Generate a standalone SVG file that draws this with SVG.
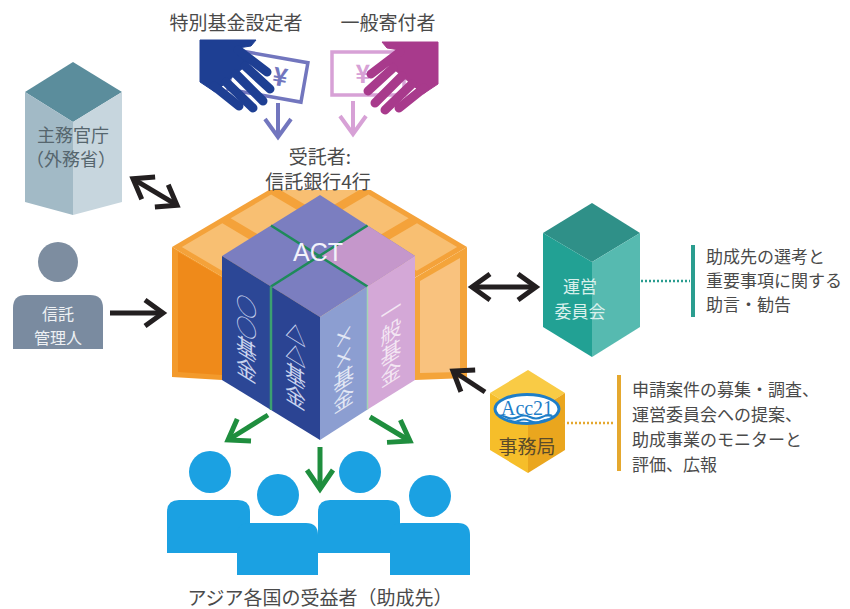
<svg xmlns="http://www.w3.org/2000/svg" width="850" height="609" viewBox="0 0 850 609">
<defs>
<style>
.jp{font-family:"Noto Sans CJK JP","Noto Sans CJK SC",sans-serif;fill:#4a4a4a;}
.lbl{font-size:19px;text-anchor:middle;}
.note{font-size:17px;}
.vt{font-family:"Noto Sans CJK JP","Noto Sans CJK SC",sans-serif;font-size:21px;writing-mode:vertical-rl;text-anchor:middle;}
.arr-k{fill:none;stroke:#231f20;stroke-width:5;}
.arr-g{fill:none;stroke:#1f8e3e;stroke-width:5;}
.person{fill:#1ba1e2;}
.tile{fill:#f8bf72;}
</style>
<marker id="mk-k" viewBox="0 0 32 32" refX="27" refY="16" markerWidth="32" markerHeight="32" markerUnits="userSpaceOnUse" orient="auto-start-reverse" style="overflow:visible"><path d="M9,3 L27,16 L9,29" fill="none" stroke="#231f20" stroke-width="5"/></marker>
<marker id="mk-g" viewBox="0 0 32 32" refX="27" refY="16" markerWidth="32" markerHeight="32" markerUnits="userSpaceOnUse" orient="auto" style="overflow:visible"><path d="M8,3 L27,16 L8,29" fill="none" stroke="#1f8e3e" stroke-width="5"/></marker>
<marker id="mk-b" viewBox="0 0 32 32" refX="27" refY="16" markerWidth="32" markerHeight="32" markerUnits="userSpaceOnUse" orient="auto" style="overflow:visible"><path d="M9,3 L27,16 L9,29" fill="none" stroke="#7276be" stroke-width="4"/></marker>
<marker id="mk-p" viewBox="0 0 32 32" refX="27" refY="16" markerWidth="32" markerHeight="32" markerUnits="userSpaceOnUse" orient="auto" style="overflow:visible"><path d="M9,3 L27,16 L9,29" fill="none" stroke="#d7a1d6" stroke-width="4"/></marker>
<g id="hand">
<polygon points="200,40 256,40 251,46 238,48 250,62 215,92 200,82"/>
<g stroke-width="9" stroke-linecap="round">
<line x1="238" y1="50" x2="267" y2="72"/>
<line x1="245" y1="66" x2="270" y2="89"/>
<line x1="236" y1="74" x2="263" y2="101"/>
<line x1="226" y1="82" x2="253" y2="108"/>
<line x1="214" y1="86" x2="239" y2="106"/>
</g>
</g>
<clipPath id="accclip"><ellipse cx="527" cy="409" rx="31" ry="13.5"/></clipPath>
</defs>

<rect width="850" height="609" fill="#ffffff"/>

<!-- Donors -->
<g id="special-fund-donor">
<text class="jp lbl" x="236" y="30">特別基金設定者</text>
<rect x="-37" y="-20" width="74" height="40" fill="#ffffff" stroke="#7276be" stroke-width="3.5" transform="translate(268,76) rotate(10)"/>
<text x="0" y="9" transform="translate(280,77) rotate(10)" font-family="Noto Sans CJK JP,sans-serif" font-size="25" font-weight="bold" fill="#7276be" text-anchor="middle">¥</text>
<use href="#hand" fill="#1e3f93" stroke="#1e3f93"/>
</g>
<g id="general-donor">
<text class="jp lbl" x="388" y="30">一般寄付者</text>
<rect x="332" y="52" width="72" height="43" fill="#ffffff" stroke="#d7a1d6" stroke-width="3.5"/>
<text x="363" y="83" font-family="Noto Sans CJK JP,sans-serif" font-size="25" font-weight="bold" fill="#d7a1d6" text-anchor="middle">¥</text>
<use href="#hand" fill="#a83a8c" stroke="#a83a8c" transform="translate(638,2) scale(-1,1)"/>
</g>

<!-- Central crate + cube -->
<g id="act">
<g id="crate">
<g transform="matrix(-49.333 29 49 29 320 160)">
<rect x="0" y="0" width="3" height="3" fill="#f4a23a"/>
<rect class="tile" x="0.1" y="0.1" width="0.82" height="0.82"/>
<rect class="tile" x="1.09" y="0.1" width="0.82" height="0.82"/>
<rect class="tile" x="2.08" y="0.1" width="0.82" height="0.82"/>
<rect class="tile" x="0.1" y="1.09" width="0.82" height="0.82"/>
<rect class="tile" x="1.09" y="1.09" width="0.82" height="0.82"/>
<rect class="tile" x="2.08" y="1.09" width="0.82" height="0.82"/>
<rect class="tile" x="0.1" y="2.08" width="0.82" height="0.82"/>
<rect class="tile" x="1.09" y="2.08" width="0.82" height="0.82"/>
<rect class="tile" x="2.08" y="2.08" width="0.82" height="0.82"/>
</g>
<polygon points="172,247 222,276.5 222,380 172,377" fill="#f39a2c"/>
<polygon points="178,252 222,277.5 222,375 178,372" fill="#ef8a1a"/>
<polygon points="467,247 415,277.7 415,380 467,378" fill="#f4a43a"/>
<polygon points="460,258 420,281 420,373 460,372" fill="#f9c27e"/>
<rect x="255" y="140" width="130" height="50" fill="#ffffff"/>
</g>
<g id="cube">
<polygon points="320,195 415,256 320,317 222,256" fill="#7b7ec0"/>
<polygon points="367.5,225.5 415,256 367.5,286.5 320,256" fill="#c597cb"/>
<polygon points="222,256 271,286.5 271,410 222,380" fill="#2c4796"/>
<polygon points="271,286.5 320,317 320,440 271,410" fill="#2b4493"/>
<polygon points="320,317 367.5,286.5 367.5,409.5 320,440" fill="#8c9ed1"/>
<polygon points="367.5,286.5 415,256 415,380 367.5,409.5" fill="#d4a8d7"/>
<g fill="none" stroke-width="2.5">
<line x1="271" y1="225.5" x2="367.5" y2="286.5" stroke="#1e8a5a"/>
<line x1="367.5" y1="225.5" x2="271" y2="286.5" stroke="#1e8a5a"/>
<line x1="271" y1="286.5" x2="271" y2="410" stroke="#3ba070"/>
<line x1="367.5" y1="286.5" x2="367.5" y2="409.5" stroke="#a4d4b4" stroke-width="1.5"/>
</g>
<text x="318" y="261" font-family="Liberation Sans,Arial,sans-serif" font-size="25" fill="#f2f2fa" text-anchor="middle">ACT</text>
<text class="vt" transform="translate(246.5,338) skewY(31.9)" fill="#c9d3ee">○○基金</text>
<text class="vt" transform="translate(295.5,365) skewY(31.9)" fill="#c9d3ee">△△基金</text>
<text class="vt" transform="translate(343.7,368) skewY(-32.7)" fill="#e2e7f4">××基金</text>
<text class="vt" transform="translate(391,342) skewY(-32.7)" fill="#f3e6f3">一般基金</text>
</g>
<text class="jp lbl" x="320" y="164">受託者:</text>
<text class="jp lbl" x="318" y="189">信託銀行4行</text>
</g>

<!-- Ministry -->
<g id="ministry">
<polygon points="73,62 122,92 73,122 25,92" fill="#5b8d9c"/>
<polygon points="25,92 73,122 73,215 25,202" fill="#a2bac6"/>
<polygon points="73,122 122,92 122,202 73,215" fill="#c7d6de"/>
<text class="jp" x="73" y="142" font-size="18" text-anchor="middle" style="fill:#56666e">主務官庁</text>
<text class="jp" x="71" y="166" font-size="18" text-anchor="middle" style="fill:#56666e">（外務省）</text>
</g>

<!-- Trust administrator -->
<g id="trust-admin">
<circle cx="58" cy="262" r="20" fill="#7d8da0"/>
<path d="M13,349 V308 Q13,295 26,295 H90 Q103,295 103,308 V349 Z" fill="#7a8ba0"/>
<text class="jp" x="58" y="320" font-size="16" text-anchor="middle" style="fill:#eef1f4">信託</text>
<text class="jp" x="58" y="344" font-size="16" text-anchor="middle" style="fill:#eef1f4">管理人</text>
</g>

<!-- Steering committee -->
<g id="committee">
<polygon points="592,203 640,233 592,262 543,233" fill="#2f9088"/>
<polygon points="543,233 592,262 592,357 543,327" fill="#22a194"/>
<polygon points="592,262 640,233 640,327 592,357" fill="#56bab0"/>
<text class="jp" x="580" y="293" font-size="17" text-anchor="middle" style="fill:#d9f0ec">運営</text>
<text class="jp" x="580" y="318" font-size="17" text-anchor="middle" style="fill:#d9f0ec">委員会</text>
</g>
<g id="committee-note">
<rect x="691" y="245" width="4" height="72" fill="#2a9d8f"/>
<text class="jp note" x="706" y="263">助成先の選考と</text>
<text class="jp note" x="706" y="287">重要事項に関する</text>
<text class="jp note" x="706" y="311">助言・勧告</text>
</g>

<!-- Secretariat -->
<g id="secretariat">
<polygon points="528,370 565,393 528,416 490,393" fill="#f9cb45"/>
<polygon points="490,393 528,416 528,473 490,450" fill="#f6be2a"/>
<polygon points="528,416 565,393 565,450 528,473" fill="#eaa61e"/>
<ellipse cx="527" cy="409" rx="32" ry="14.5" fill="#ffffff" stroke="#1e7ec8" stroke-width="3"/>
<g clip-path="url(#accclip)" fill="none" stroke="#1e7ec8" stroke-width="2">
<path d="M494,417 q6,-3 12,0 t12,0 t12,0 t12,0 t12,0"/>
<path d="M494,421 q6,-3 12,0 t12,0 t12,0 t12,0 t12,0"/>
</g>
<text x="527" y="415" font-family="Liberation Serif,Times New Roman,serif" font-size="21" fill="#1e7ec8" text-anchor="middle" textLength="52" lengthAdjust="spacingAndGlyphs">Acc21</text>
<text class="jp" x="527" y="454" font-size="19" text-anchor="middle" style="fill:#5a4b2a">事務局</text>
</g>
<g id="secretariat-note">
<rect x="617" y="375" width="4" height="96" fill="#e5a82e"/>
<text class="jp note" x="632" y="396">申請案件の募集・調査、</text>
<text class="jp note" x="632" y="421">運営委員会への提案、</text>
<text class="jp note" x="632" y="446">助成事業のモニターと</text>
<text class="jp note" x="632" y="471">評価、広報</text>
</g>

<!-- Beneficiaries -->
<g id="beneficiaries">
<circle class="person" cx="210" cy="472" r="21"/>
<path class="person" d="M167,553 V512 Q167,500 179,500 H238 Q250,500 250,512 V553 Z"/>
<circle class="person" cx="278" cy="495" r="21"/>
<path class="person" d="M237,575 V535 Q237,523 249,523 H306 Q318,523 318,535 V575 Z"/>
<circle class="person" cx="360" cy="472" r="21"/>
<path class="person" d="M318,553 V512 Q318,500 330,500 H388 Q400,500 400,512 V553 Z"/>
<circle class="person" cx="430" cy="496" r="21"/>
<path class="person" d="M390,575 V535 Q390,523 402,523 H458 Q470,523 470,535 V575 Z"/>
<text class="jp" x="320" y="605" font-size="19" text-anchor="middle">アジア各国の受益者（助成先）</text>
</g>

<!-- Connectors -->
<g id="connectors">
<line x1="278" y1="103" x2="278" y2="137" fill="none" stroke="#7276be" stroke-width="4" marker-end="url(#mk-b)"/>
<line x1="353" y1="101" x2="353" y2="134" fill="none" stroke="#d7a1d6" stroke-width="4" marker-end="url(#mk-p)"/>
<line class="arr-k" x1="133" y1="178.8" x2="177" y2="205.2" marker-start="url(#mk-k)" marker-end="url(#mk-k)"/>
<line class="arr-k" x1="110" y1="313" x2="163" y2="313" marker-end="url(#mk-k)"/>
<line class="arr-k" x1="472" y1="287" x2="536" y2="287" marker-start="url(#mk-k)" marker-end="url(#mk-k)"/>
<line class="arr-k" x1="485" y1="392" x2="453" y2="371" marker-end="url(#mk-k)"/>
<line class="arr-g" x1="268" y1="415" x2="228" y2="440" marker-end="url(#mk-g)"/>
<line class="arr-g" x1="320" y1="447" x2="320" y2="489" marker-end="url(#mk-g)"/>
<line class="arr-g" x1="370" y1="417" x2="410" y2="441" marker-end="url(#mk-g)"/>
<line x1="641" y1="281" x2="690" y2="281" stroke="#2a9d8f" stroke-width="2.5" stroke-dasharray="2 2"/>
<line x1="563" y1="423" x2="615" y2="423" stroke="#e5a82e" stroke-width="2.5" stroke-dasharray="2 2"/>
</g>
</svg>
